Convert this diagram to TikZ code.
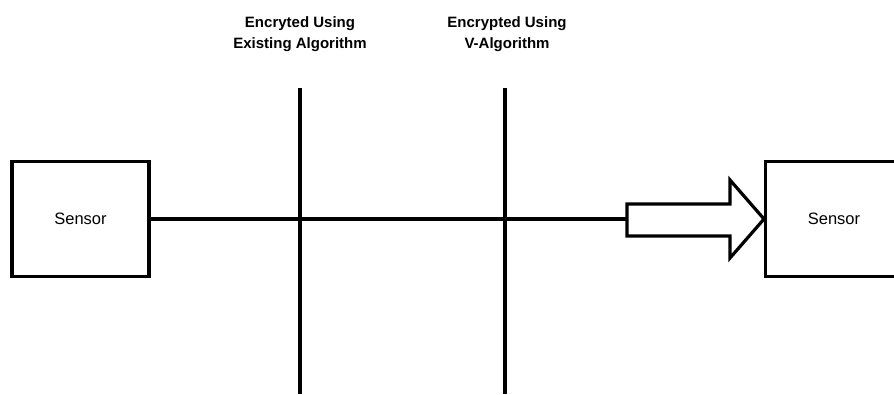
\documentclass[tikz,border=0pt]{standalone}
\usepackage{fontspec}
\setmainfont{Liberation Sans}
\begin{document}
\begin{tikzpicture}[x=1pt,y=-1pt,
    line/.style={line width=3.2pt},
    box/.style={draw,line width=3.2pt,minimum width=137pt,minimum height=115pt,inner sep=0pt},
    boxtext/.style={font=\fontsize{16.5}{18}\selectfont},
    caption/.style={font=\bfseries\fontsize{15}{21}\selectfont,align=center,inner sep=0pt}]
  \useasboundingbox (0,0) rectangle (894,394);
  \begin{scope}
    \clip (0,0) rectangle (894,394);
    % sensor boxes
    \node[box] (src) at (80.5,219) {};
    \node[boxtext] at (src.center) {Sensor};
    \node[box,anchor=west] (dst) at (764,219) {};
    \node[boxtext] at (834,219) {Sensor};
    % encryption stages
    \coordinate (c1top) at (300,88);
    \coordinate (c1bot) at (300,394);
    \coordinate (c2top) at (505,88);
    \coordinate (c2bot) at (505,394);
    \draw[line] (c1top) -- (c1bot);
    \draw[line] (c2top) -- (c2bot);
    \node[caption] (l1) at (300,34) {Encryted Using\\Existing Algorithm};
    \node[caption] (l2) at (507,34) {Encrypted Using\\V-Algorithm};
    % data path and block arrow
    \coordinate (shaft) at (627,219);
    \draw[line] (src.east) -- (shaft);
    \draw[line,line join=miter] (shaft) -- (627,204) -- (730,204) -- (730,180)
      -- (dst.west) -- (730,258) -- (730,236) -- (627,236) -- cycle;
  \end{scope}
\end{tikzpicture}
\end{document}
